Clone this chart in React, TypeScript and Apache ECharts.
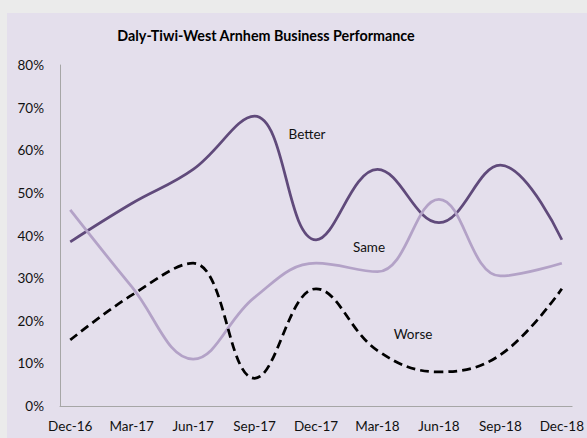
import React, { useEffect, useRef } from "react";
import * as echarts from "echarts";

const categories = ["Dec-16", "Mar-17", "Jun-17", "Sep-17", "Dec-17", "Mar-18", "Jun-18", "Sep-18", "Dec-18"];
const better = [38.5, 47.5, 55.5, 68, 39, 55.5, 43, 56.5, 39];
const same = [46, 28, 11, 25.5, 33.5, 31.5, 48.5, 30.5, 33.5];
const worse = [15.5, 26, 33.5, 6.5, 27.5, 13, 8, 12, 27.5];
const yTicks = [0, 10, 20, 30, 40, 50, 60, 70, 80];

const FONT = "Lato";

export default function App() {
  const ref = useRef<HTMLDivElement>(null);
  useEffect(() => {
    document.body.style.margin = "0";
    const chart = echarts.init(ref.current!, null, { renderer: "svg" });
    const pts = (arr: number[]) => arr.map((v, i) => [i, v]);
    chart.setOption({
      animation: false,
      backgroundColor: "#ebebeb",
      textStyle: { fontFamily: FONT },
      graphic: [
        { type: "rect", z: -10, shape: { x: 7, y: 13, width: 600, height: 440 }, style: { fill: "#e4dfec" } },
        { type: "text", x: 266, y: 35, style: { text: "Daly-Tiwi-West Arnhem Business Performance", fontFamily: FONT, fontSize: 14.3, fontWeight: "bold", fill: "#000", align: "center", verticalAlign: "middle" } },
        { type: "text", x: 307, y: 134, style: { text: "Better", fontFamily: FONT, fontSize: 13.5, fill: "#111", align: "center", verticalAlign: "middle" } },
        { type: "text", x: 369, y: 247, style: { text: "Same", fontFamily: FONT, fontSize: 13.5, fill: "#111", align: "center", verticalAlign: "middle" } },
        { type: "text", x: 413, y: 334, style: { text: "Worse", fontFamily: FONT, fontSize: 13.5, fill: "#111", align: "center", verticalAlign: "middle" } },
      ],
      grid: { left: 60, right: 14, top: 65, bottom: 32, containLabel: false },
      xAxis: {
        type: "value",
        position: "bottom",
        min: -1 / 6,
        max: 8 + 1 / 6,
        splitLine: { show: false },
        axisLine: { show: true, onZero: false, lineStyle: { color: "#a6a6a6", width: 1 } },
        axisTick: { show: false },
        axisLabel: {
          customValues: categories.map((_, i) => i),
          formatter: (v: number) => categories[Math.round(v)] ?? "",
          color: "#111",
          fontFamily: FONT,
          fontSize: 13.5,
          margin: 13,
        },
      },
      yAxis: {
        type: "value",
        min: 0,
        max: 80,
        interval: 10,
        splitLine: { show: false },
        axisLine: { show: true, onZero: false, lineStyle: { color: "#a6a6a6", width: 1 } },
        axisTick: { show: false },
        axisLabel: {
          customValues: yTicks,
          formatter: "{value}%",
          color: "#111",
          fontFamily: FONT,
          fontSize: 13.5,
          margin: 16,
        },
      },
      series: [
        { name: "Better", type: "line", data: pts(better), smooth: 0.4, symbol: "none", lineStyle: { color: "#604a7b", width: 2.75 } },
        { name: "Same", type: "line", data: pts(same), smooth: 0.4, symbol: "none", lineStyle: { color: "#b3a2c7", width: 2.75 } },
        { name: "Worse", type: "line", data: pts(worse), smooth: 0.4, symbol: "none", lineStyle: { color: "#000", width: 2.75, type: [9, 5] } },
      ],
    });
    return () => chart.dispose();
  }, []);
  return <div ref={ref} style={{ width: 587, height: 438 }} />;
}
